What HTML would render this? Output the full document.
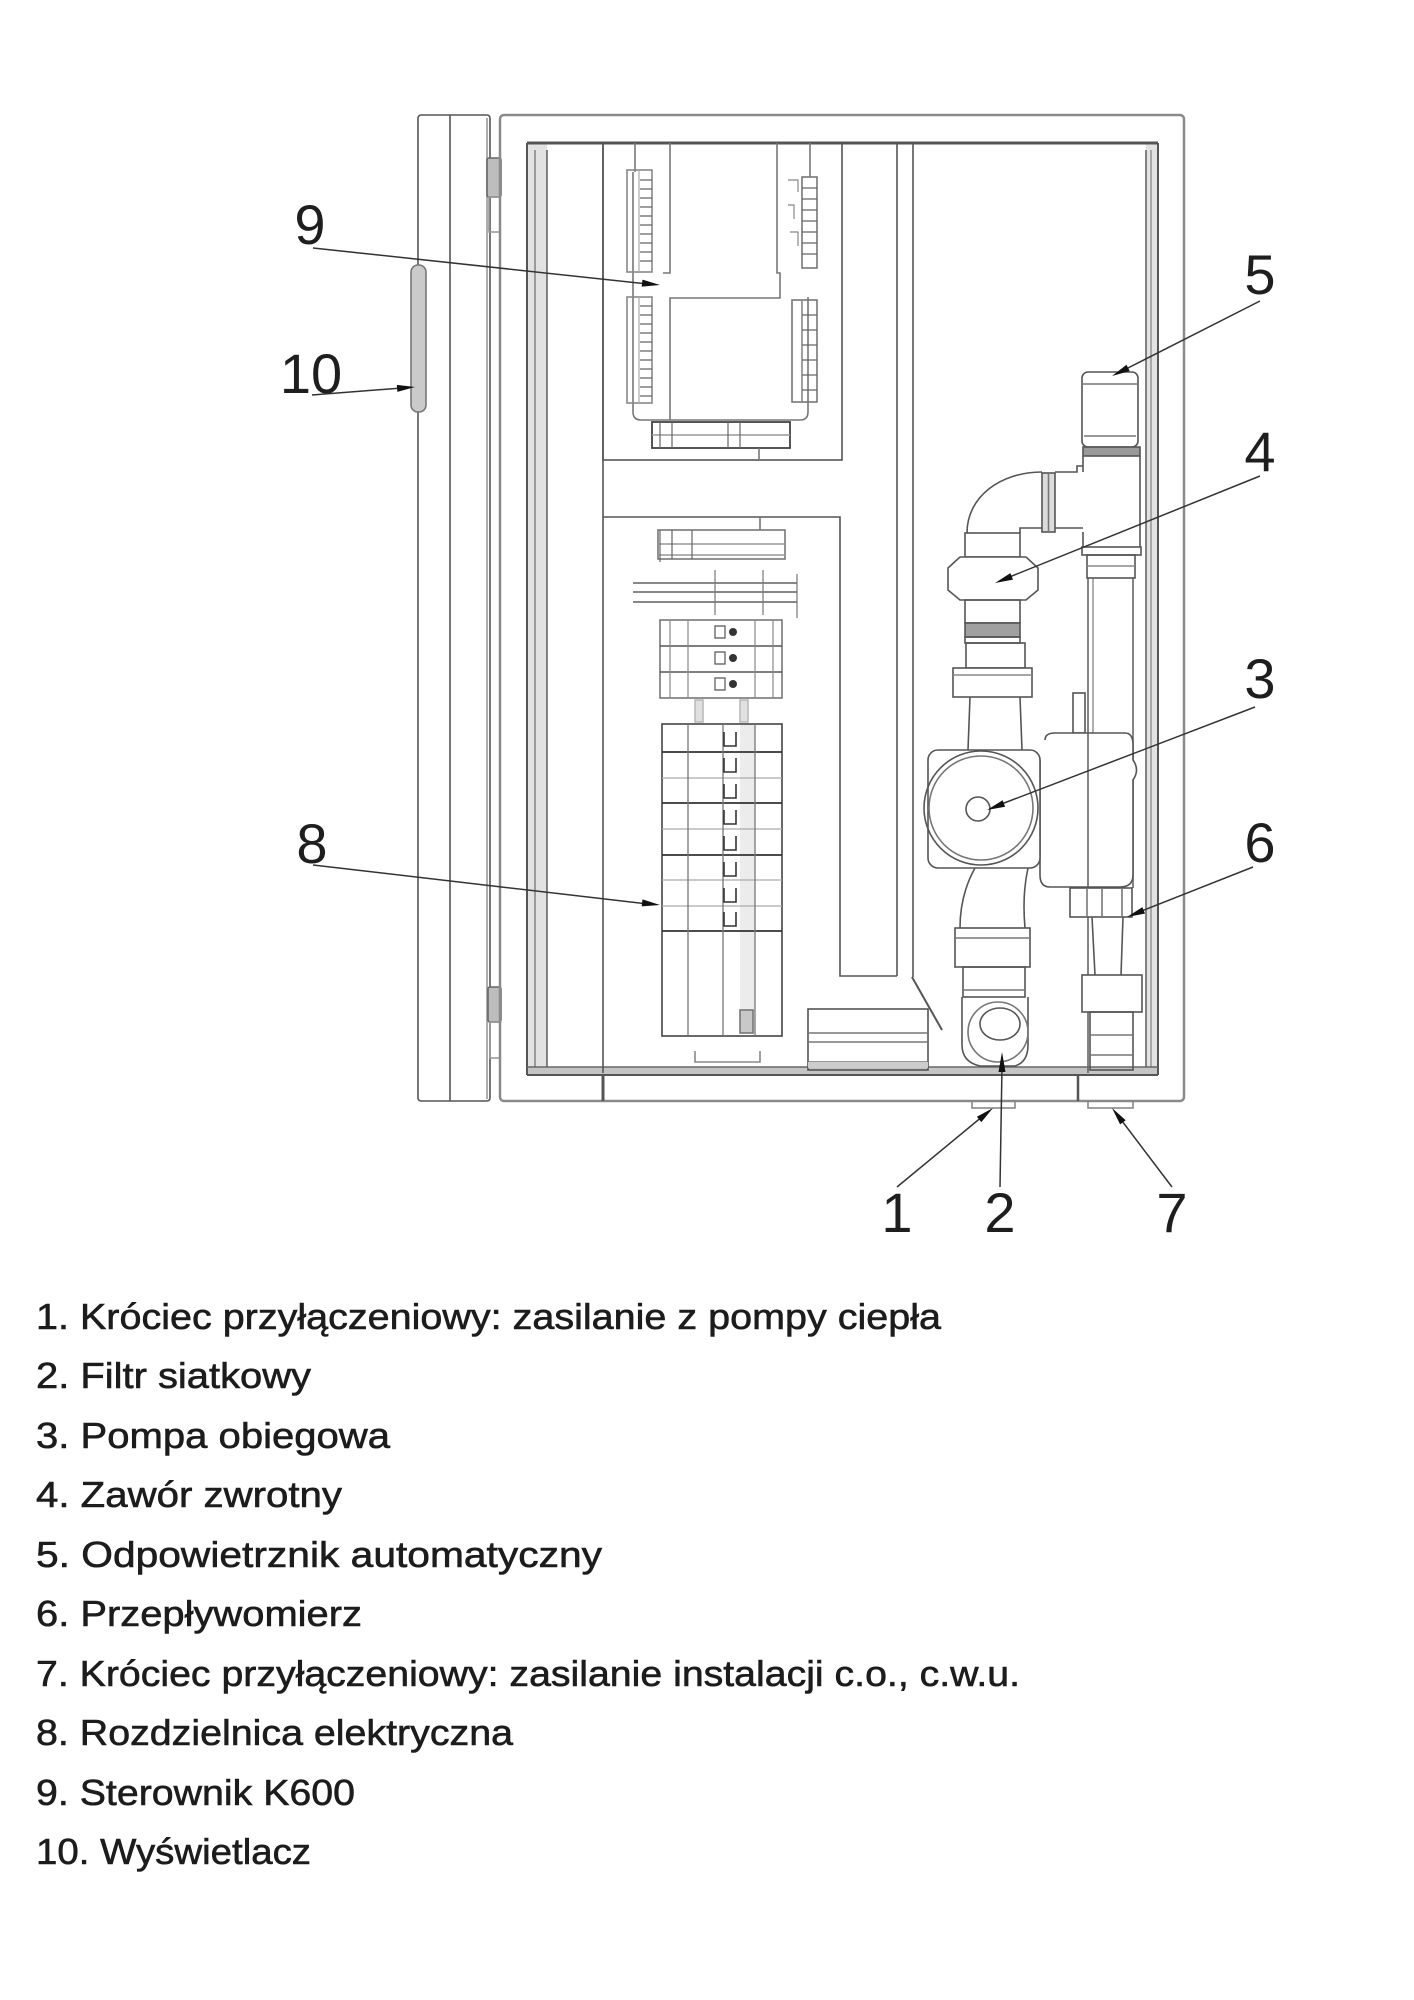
<!DOCTYPE html>
<html><head><meta charset="utf-8"><style>
html,body{margin:0;padding:0;background:#fff;}
svg{display:block;}
</style></head><body>
<svg width="1414" height="2000" viewBox="0 0 1414 2000" xmlns="http://www.w3.org/2000/svg">
<rect width="1414" height="2000" fill="#fff"/>

<g fill="none" stroke="#555" stroke-width="1.6">
 <!-- DOOR -->
 <rect x="418" y="115" width="72" height="986" rx="3"/>
 <line x1="450" y1="115" x2="450" y2="1101"/>
 <line x1="487" y1="118" x2="487" y2="1099" stroke="#999"/>
 <!-- hinges -->
 <rect x="487" y="158" width="14" height="39" rx="2" fill="#bdbdbd" stroke="#666"/>
 <rect x="489" y="197" width="11" height="35" stroke="#999"/>
 <rect x="488" y="987" width="13" height="35" rx="2" fill="#bdbdbd" stroke="#666"/>
 <rect x="490" y="1022" width="10" height="36" stroke="#999"/>
 <!-- display -->
 <rect x="411" y="265" width="15" height="147" rx="7" fill="#cacaca" stroke="#777"/>

 <!-- CABINET -->
 <rect x="500" y="115" width="684" height="986" rx="4" stroke="#8a8a8a" stroke-width="2.5"/>
 <!-- inner frame -->
 <rect x="527" y="143" width="20" height="930" fill="#e2e2e2" stroke="none"/>
 <rect x="1146" y="143" width="12" height="930" fill="#e2e2e2" stroke="none"/>
 <rect x="527" y="1067" width="631" height="8" fill="#c4c4c4" stroke="none"/>
 <line x1="527" y1="143" x2="1158" y2="143" stroke="#555" stroke-width="3"/>
 <line x1="527" y1="143" x2="527" y2="1075" stroke-width="2"/>
 <line x1="535" y1="150" x2="535" y2="1067" stroke="#888"/>
 <line x1="547" y1="150" x2="547" y2="1067" stroke="#666"/>
 <line x1="1146" y1="150" x2="1146" y2="1067" stroke="#666"/>
 <line x1="1151" y1="150" x2="1151" y2="1067" stroke="#999"/>
 <line x1="1158" y1="143" x2="1158" y2="1075" stroke-width="2"/>
 <line x1="527" y1="1067" x2="1158" y2="1067" stroke="#666"/>
 <line x1="527" y1="1075" x2="1158" y2="1075" stroke-width="2"/>
 <!-- bottom ticks -->
 <line x1="603" y1="1075" x2="603" y2="1101" stroke-width="3"/>
 <line x1="1078" y1="1075" x2="1078" y2="1101" stroke-width="2.5"/>

 <!-- CONTROLLER BOX (9) -->
 <rect x="603" y="143" width="239" height="317"/>
 <line x1="635" y1="143" x2="635" y2="172" stroke="#777"/>
 <line x1="810" y1="143" x2="810" y2="177" stroke="#777"/>
 <path d="M633 172 V412 Q633 420 641 420 H800 Q808 420 808 412 V297" stroke="#777"/>
 <path d="M670 143 V273 H663 M777 143 V273 H780 V298 H670 V420" stroke="#777"/>
 <rect x="627" y="170" width="25" height="102" stroke="#888"/>
 <rect x="627" y="297" width="25" height="106" stroke="#888"/>
 <path d="M639 170 V272 M639 297 V403" stroke="#aaa" stroke-width="1.2"/>
 <path d="M640 180h12M640 189h12M640 198h12M640 207h12M640 216h12M640 225h12M640 234h12M640 243h12M640 252h12M640 261h12M640 306h12M640 315h12M640 324h12M640 333h12M640 342h12M640 351h12M640 360h12M640 369h12M640 378h12M640 387h12M640 396h12" stroke="#666" stroke-width="1.2"/>
 <rect x="802" y="177" width="15" height="91" stroke="#777"/>
 <path d="M802 188h15M802 199h15M802 210h15M802 221h15M802 232h15M802 243h15M802 254h15" stroke="#666" stroke-width="1.2"/>
 <path d="M788 180 h10 v12 M788 205 h6 v14 M790 232 h8 v14" stroke="#888" stroke-width="1.2"/>
 <rect x="792" y="300" width="25" height="102" stroke="#777"/>
 <line x1="802" y1="300" x2="802" y2="402" stroke="#888"/>
 <path d="M802 315h15M802 330h15M802 345h15M802 360h15M802 375h15M802 390h15" stroke="#666" stroke-width="1.2"/>
 <rect x="652" y="422" width="138" height="26" stroke="#444" stroke-width="1.8"/>
 <line x1="652" y1="435" x2="790" y2="435" stroke="#999"/>
 <path d="M660 422V448M672 422V448M728 422V448M740 422V448" stroke="#666" stroke-width="1.2"/>
 <line x1="759" y1="448" x2="759" y2="460" stroke="#777"/>

 <!-- ELECTRICAL BOX (8) -->
 <path d="M603 143 V1073"/>
 <path d="M603 517 H840 V976 H897"/>
 <line x1="760" y1="517" x2="760" y2="530" stroke="#777"/>
 <rect x="658" y="530" width="127" height="29" stroke="#777"/>
 <path d="M658 544 H785 M658 555 H785" stroke="#999"/>
 <path d="M660 530V562M672 530V559M692 530V559" stroke="#666" stroke-width="1.2"/>
 <path d="M633 583 H797 M633 592 H797 M633 602 H797" stroke="#888" stroke-width="2"/>
 <path d="M715 570 V615 M763 570 V615 M797 574 V618" stroke="#777" stroke-width="1.2"/>
 <rect x="660" y="620" width="122" height="78" stroke="#777"/>
 <path d="M660 646 H782 M660 672 H782" stroke="#555"/>
 <path d="M670 620V698M688 620V698M755 620V698M773 620V698" stroke="#888" stroke-width="1.2"/>
 <path d="M715 626h10v12h-10z M715 652h10v12h-10z M715 678h10v12h-10z" stroke="#555" stroke-width="1.2"/>
 <circle cx="733" cy="632" r="4" fill="#333" stroke="none"/>
 <circle cx="733" cy="658" r="4" fill="#333" stroke="none"/>
 <circle cx="733" cy="684" r="4" fill="#333" stroke="none"/>
 <rect x="695" y="700" width="8" height="22" fill="#e0e0e0" stroke="#bbb"/>
 <rect x="740" y="700" width="8" height="22" fill="#e0e0e0" stroke="#bbb"/>
 <rect x="740" y="724" width="15" height="310" fill="#ececec" stroke="none"/>
 <rect x="662" y="724" width="120" height="312" stroke="#444"/>
 <path d="M662 752 H782 M662 803 H782 M662 855 H782 M662 931 H782" stroke="#333" stroke-width="1.8"/>
 <path d="M662 778 H782 M662 829 H782 M662 880 H782 M662 906 H782" stroke="#aaa" stroke-width="1.2"/>
 <path d="M688 724V1036M723 724V1036M755 724V1036" stroke="#777" stroke-width="1.3"/>
 <path d="M724 732v14h12v-14M724 758v14h12v-14M724 784v14h12v-14M724 810v14h12v-14M724 836v14h12v-14M724 862v14h12v-14M724 888v14h12v-14M724 912v14h12v-14" stroke="#333" stroke-width="1.6"/>
 <rect x="740" y="1010" width="13" height="23" fill="#c8c8c8" stroke="#777"/>
 <path d="M695 1051 V1062 H760 V1051" stroke="#888"/>

 <!-- DUCT -->
 <line x1="897" y1="143" x2="897" y2="976"/>
 <line x1="913" y1="143" x2="913" y2="977"/>
 <line x1="912" y1="977" x2="942" y2="1030" stroke-width="2"/>
 <!-- bottom box -->
 <rect x="808" y="1009" width="120" height="61"/>
 <path d="M808 1033 H928 M808 1042 H928 M808 1062 H928" stroke="#777"/>
 <rect x="808" y="1062" width="120" height="6" fill="#ccc" stroke="none"/>

 <!-- HYDRAULICS: right column -->
 <line x1="1088" y1="578" x2="1088" y2="888" stroke="#666"/>
 <line x1="1093" y1="578" x2="1093" y2="888" stroke="#999"/>
 <line x1="1133" y1="578" x2="1133" y2="888" stroke="#666"/>
 <rect x="1082" y="372" width="56" height="75" rx="6" fill="#fff"/>
 <path d="M1082 384 H1138 M1084 436 H1136" stroke="#777"/>
 <rect x="1083" y="447" width="57" height="9" fill="#9a9a9a"/>
 <path d="M1083 456 V472 M1083 532 V547 M1140 456 V547" />
 <rect x="1082" y="547" width="59" height="8"/>
 <rect x="1087" y="555" width="48" height="23"/>
 <line x1="1087" y1="566" x2="1135" y2="566" stroke="#888"/>
 <!-- elbow -->
 <path d="M967 533 C967 497 1000 472 1042 472"/>
 <path d="M1020 533 V528 H1042"/>
 <rect x="1042" y="473" width="13" height="59" fill="#dcdcdc"/>
 <line x1="1048.5" y1="473" x2="1048.5" y2="532" stroke="#777"/>
 <path d="M1055 472 H1077 V466 H1083 M1055 528 H1083"/>
 <!-- check valve (4) -->
 <rect x="965" y="533" width="55" height="24"/>
 <polygon points="960,557 1026,557 1038,568 1038,590 1026,600 960,600 948,590 948,568" fill="#fff"/>
 <rect x="965" y="600" width="55" height="23"/>
 <rect x="965" y="623" width="55" height="14" fill="#a0a0a0"/>
 <rect x="965" y="637" width="55" height="6"/>
 <rect x="966" y="643" width="59" height="25"/>
 <rect x="953" y="668" width="79" height="29" fill="#fff"/>
 <line x1="953" y1="675" x2="1032" y2="675" stroke="#888"/>
 <path d="M970 697 L968 750 M1020 697 L1022 750"/>
 <!-- pump motor box -->
 <rect x="1073" y="693" width="12" height="40" fill="#fff"/>
 <path d="M1045 740 Q1045 733 1055 733 H1125 Q1133 733 1133 745 V760 Q1140 770 1133 780 V875 Q1133 887 1120 887 H1050 Q1040 887 1040 875 V760" fill="#fff"/>
 <line x1="1088" y1="733" x2="1088" y2="1073" stroke="#666"/>
 <!-- pump -->
 <rect x="928" y="750" width="112" height="118" rx="10" fill="#fff"/>
 <circle cx="981" cy="808" r="57"/>
 <circle cx="981" cy="808" r="52" stroke="#777"/>
 <circle cx="978" cy="809" r="12"/>
 <!-- lower left -->
 <path d="M975 868 Q960 895 960 928 M1028 868 Q1022 895 1025 928"/>
 <rect x="955" y="928" width="75" height="39" fill="#fff"/>
 <line x1="955" y1="938" x2="1030" y2="938" stroke="#777"/>
 <rect x="963" y="967" width="62" height="30"/>
 <line x1="963" y1="990" x2="1025" y2="990" stroke="#777"/>
 <path d="M962 997 V1045 Q962 1062 980 1066 H1015 Q1028 1062 1028 1045 V997"/>
 <circle cx="998" cy="1032" r="30" stroke="#777"/>
 <ellipse cx="1000" cy="1024" rx="20" ry="16"/>
 <!-- flowmeter (6) -->
 <rect x="1070" y="888" width="62" height="29" fill="#fff"/>
 <path d="M1087 888V917M1102 888V917M1122 888V917" stroke="#777"/>
 <path d="M1092 917 L1095 975 M1123 917 L1121 975"/>
 <rect x="1082" y="975" width="60" height="37" fill="#fff"/>
 <rect x="1090" y="1012" width="43" height="58"/>
 <path d="M1090 1035 H1133 M1090 1055 H1133" stroke="#777"/>
 <!-- stubs -->
 <rect x="972" y="1101" width="43" height="7" stroke="#888"/>
 <rect x="1088" y="1101" width="45" height="7" stroke="#888"/>
</g>

<!-- LEADERS -->
<g stroke="#333" stroke-width="1.5" fill="none">
 <line x1="313" y1="248" x2="648" y2="284"/>
 <line x1="312" y1="395" x2="402" y2="388"/>
 <line x1="313" y1="865" x2="648" y2="904"/>
 <line x1="1260" y1="301" x2="1124" y2="370"/>
 <line x1="1260" y1="476" x2="1007" y2="578"/>
 <line x1="1255" y1="707" x2="999" y2="805"/>
 <line x1="1253" y1="867" x2="1139" y2="912"/>
 <line x1="897" y1="1187" x2="983" y2="1116"/>
 <line x1="1000" y1="1187" x2="1002" y2="1066"/>
 <line x1="1172" y1="1187" x2="1119" y2="1117"/>
</g>
<g fill="#111" stroke="none">
 <polygon points="660,285 641.7,286.6 642.5,279.6"/>
 <polygon points="415,387 397.4,391.9 396.8,384.9"/>
 <polygon points="660,905 641.7,906.4 642.5,899.4"/>
 <polygon points="1112,376 1126.5,364.8 1129.7,371.0"/>
 <polygon points="995,583 1010.4,573.1 1013.0,579.6"/>
 <polygon points="987,810 1002.6,800.2 1005.1,806.8"/>
 <polygon points="1127,917 1142.4,907.1 1145.0,913.6"/>
 <polygon points="993,1108 981.3,1122.1 976.9,1116.7"/>
 <polygon points="1002,1052 998.5,1072 1005.5,1072"/>
 <polygon points="1112,1108 1125.7,1120.2 1120.1,1124.4"/>
</g>

<!-- NUMBER LABELS -->
<g font-family="'Liberation Sans', Arial, sans-serif" font-size="56" fill="#1e1e1e" text-anchor="middle">
 <text x="310" y="244">9</text>
 <text x="311" y="393">10</text>
 <text x="312" y="863">8</text>
 <text x="1260" y="294">5</text>
 <text x="1260" y="471">4</text>
 <text x="1260" y="698">3</text>
 <text x="1260" y="862">6</text>
 <text x="897" y="1232">1</text>
 <text x="1000" y="1232">2</text>
 <text x="1172" y="1232">7</text>
</g>

<!-- LEGEND -->
<g font-family="'Liberation Sans', Arial, sans-serif" font-size="36" fill="#1c1c1c" stroke="#1c1c1c" stroke-width="0.6">
 <text x="36" y="1329" textLength="905" lengthAdjust="spacingAndGlyphs">1. Króciec przyłączeniowy: zasilanie z pompy ciepła</text>
 <text x="36" y="1388" textLength="275" lengthAdjust="spacingAndGlyphs">2. Filtr siatkowy</text>
 <text x="36" y="1448" textLength="354" lengthAdjust="spacingAndGlyphs">3. Pompa obiegowa</text>
 <text x="36" y="1507" textLength="306" lengthAdjust="spacingAndGlyphs">4. Zawór zwrotny</text>
 <text x="36" y="1567" textLength="566" lengthAdjust="spacingAndGlyphs">5. Odpowietrznik automatyczny</text>
 <text x="36" y="1626" textLength="326" lengthAdjust="spacingAndGlyphs">6. Przepływomierz</text>
 <text x="36" y="1686" textLength="984" lengthAdjust="spacingAndGlyphs">7. Króciec przyłączeniowy: zasilanie instalacji c.o., c.w.u.</text>
 <text x="36" y="1745" textLength="477" lengthAdjust="spacingAndGlyphs">8. Rozdzielnica elektryczna</text>
 <text x="36" y="1805" textLength="319" lengthAdjust="spacingAndGlyphs">9. Sterownik K600</text>
 <text x="36" y="1864" textLength="275" lengthAdjust="spacingAndGlyphs">10. Wyświetlacz</text>
</g>
</svg>
</body></html>
